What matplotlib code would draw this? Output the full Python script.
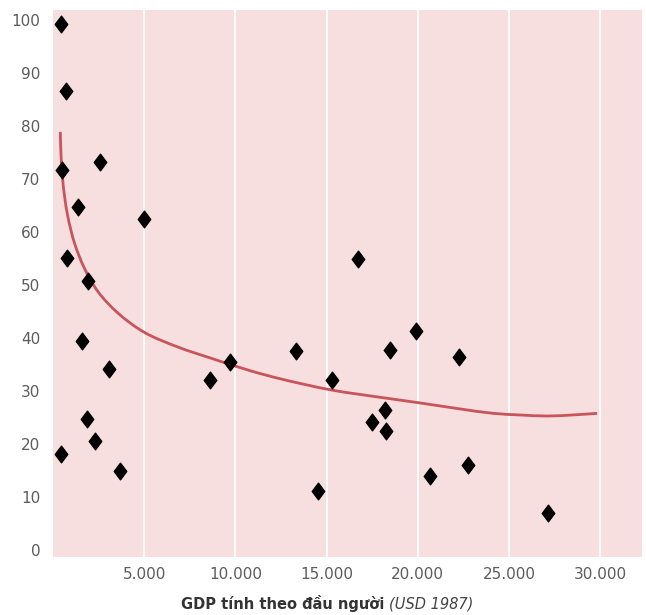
import matplotlib
matplotlib.use("Agg")
import matplotlib.pyplot as plt
import numpy as np
from matplotlib.path import Path
from matplotlib.patches import PathPatch

# ---- data ----
gdp = [460, 733, 514, 2600, 1390, 5000, 790, 1940, 1610, 3090, 1880, 2330,
       460, 3690, 8610, 9700, 13310, 16700, 15280, 14520, 19880, 18460,
       22290, 18180, 17520, 18240, 20700, 22780, 27160]
val = [99.2, 86.6, 71.7, 73.2, 64.7, 62.4, 55.1, 50.8, 39.4, 34.1, 24.7, 20.6,
       18.1, 14.9, 32.1, 35.5, 37.5, 54.9, 32.1, 11.1, 41.3, 37.7,
       36.4, 26.4, 24.2, 22.5, 14.0, 16.0, 7.0]

trend_x = [400, 440, 520, 640, 820, 1190, 1720, 2480, 3570, 5000, 6860, 8670, 10860,
           12490, 15280, 17800, 20260, 22200, 24150, 25600, 27100, 28500, 29840]
trend_y = [78.9, 74.5, 70.3, 66.6, 62.8, 57.8, 53.2, 48.7, 44.7, 41.1, 38.3, 36.2, 33.8,
           32.3, 30.2, 28.9, 27.7, 26.7, 25.8, 25.5, 25.3, 25.5, 25.8]

xticks = [5000, 10000, 15000, 20000, 25000, 30000]
xtick_labels = ["5.000", "10.000", "15.000", "20.000", "25.000", "30.000"]
yticks = [0, 10, 20, 30, 40, 50, 60, 70, 80, 90, 100]
ytick_labels = ["0", "10", "20", "30", "40", "50", "60", "70", "80", "90", "100"]

plt.rcParams['font.family'] = ['DejaVu Sans']

fig = plt.figure(figsize=(6.46, 6.15), dpi=100)
ax = fig.add_axes([53/646, 1-557/615, (642-53)/646, (557-10)/615])
ax.set_facecolor('#f6dfde')
for s in ax.spines.values():
    s.set_visible(False)

ax.set_xlim(0, 32300)
ax.set_ylim(-1.3, 101.9)
ax.set_xticks(xticks)
ax.set_xticklabels(xtick_labels)
ax.set_yticks(yticks)
ax.set_yticklabels(ytick_labels)
ax.tick_params(length=0, labelsize=11, colors='#5c5c5c', pad=9)
ax.tick_params(axis='x', pad=7)
ax.grid(axis='x', color='white', linewidth=1.3)
ax.set_axisbelow(True)

# smooth trend line through the read points (centripetal Catmull-Rom -> Bezier, display space)
pts = ax.transData.transform(np.column_stack([trend_x, trend_y]))
verts = [pts[0]]
codes = [Path.MOVETO]
n = len(pts)
for i in range(n - 1):
    p0 = pts[i - 1] if i > 0 else 2 * pts[i] - pts[i + 1]
    p1 = pts[i]
    p2 = pts[i + 1]
    p3 = pts[i + 2] if i + 2 < n else 2 * pts[i + 1] - pts[i]
    d1 = np.linalg.norm(p1 - p0) ** 0.5 + 1e-9
    d2 = np.linalg.norm(p2 - p1) ** 0.5 + 1e-9
    d3 = np.linalg.norm(p3 - p2) ** 0.5 + 1e-9
    m1 = (p1 - p0) / d1 - (p2 - p0) / (d1 + d2) + (p2 - p1) / d2
    m2 = (p2 - p1) / d2 - (p3 - p1) / (d2 + d3) + (p3 - p2) / d3
    c1 = p1 + m1 * d2 / 3.0
    c2 = p2 - m2 * d2 / 3.0
    verts += [c1, c2, p2]
    codes += [Path.CURVE4] * 3
verts_data = ax.transData.inverted().transform(np.array(verts))
ax.add_patch(PathPatch(Path(verts_data, codes), facecolor='none',
                       edgecolor='#c9545c', linewidth=2, zorder=2))

diamond = Path([(0, 1), (0.75, 0), (0, -1), (-0.75, 0), (0, 1)],
               [Path.MOVETO, Path.LINETO, Path.LINETO, Path.LINETO, Path.CLOSEPOLY])
ax.plot(gdp, val, linestyle='none', marker=diamond, markersize=12,
        color='black', zorder=3)

fig.text(384/646, 1-604/615, "GDP tính theo đầu người", ha='right', va='center',
         fontsize=10.5, color='#333333', fontweight='bold')
fig.text(389/646, 1-604/615, "(USD 1987)", ha='left', va='center',
         fontsize=10.5, color='#444444', style='italic')

fig.savefig("out.png", dpi=100)
